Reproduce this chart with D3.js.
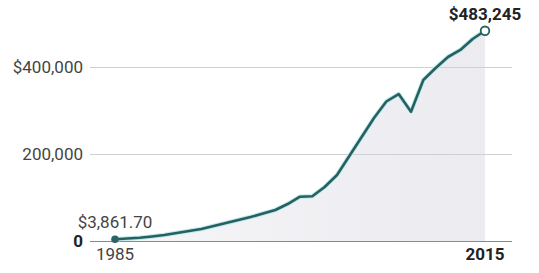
<!DOCTYPE html>
<html>
<head>
<meta charset="utf-8">
<script src="https://cdn.jsdelivr.net/npm/d3@7"></script>
<style>
  body { margin: 0; background: #fff; }
  svg { display: block; font-family: Roboto, "Liberation Sans", sans-serif; }
  .tick-label { font-size: 17px; fill: #444; }
  .bold-label { font-size: 17px; font-weight: bold; fill: #222; }
</style>
</head>
<body>
<svg class="chart" width="539" height="273"></svg>
<script>
// DATA
var years = [1985, 1986, 1987, 1988, 1989, 1990, 1991, 1992, 1993, 1994,
             1995, 1996, 1997, 1998, 1999, 2000, 2001, 2002, 2003, 2004,
             2005, 2006, 2007, 2008, 2009, 2010, 2011, 2012, 2013, 2014, 2015];

var values = [3861.70, 5700, 7400, 10300, 13800, 18400, 23000, 27600, 34500, 41400,
              48300, 55200, 63200, 71300, 85000, 101800, 102800, 124100, 151700, 195400,
              239000, 282800, 320700, 337900, 297200, 370100, 397700, 423000, 439100, 464400, 483245];

var yTicks = [0, 200000, 400000];
var yTickLabels = ["0", "200,000", "$400,000"];

var startLabel = "$3,861.70";
var endLabel = "$483,245";

// SETUP
var svg = d3.select(".chart");

var x = d3.scaleLinear()
    .domain([1985, 2015])
    .range([115, 485]);

var y = d3.scaleLinear()
    .domain([0, 400000])
    .range([241, 67]);

var data = years.map(function(d, i) { return {year: d, value: values[i]}; });

var gridLeft = 90, gridRight = 512;

// gradient for the area
var defs = svg.append("defs");
var grad = defs.append("linearGradient")
    .attr("id", "areaFill")
    .attr("x1", "0%").attr("x2", "100%")
    .attr("y1", "0%").attr("y2", "0%");
grad.append("stop").attr("offset", "0%").attr("stop-color", "#f6f6f8");
grad.append("stop").attr("offset", "100%").attr("stop-color", "#ebebf0");

// area
var area = d3.area()
    .x(function(d) { return x(d.year); })
    .y0(y(0))
    .y1(function(d) { return y(d.value); });

svg.append("path")
    .datum(data)
    .attr("d", area)
    .attr("fill", "url(#areaFill)");

// gridlines
svg.append("g")
  .selectAll("line")
  .data(yTicks)
  .enter().append("line")
    .attr("x1", gridLeft)
    .attr("x2", gridRight)
    .attr("y1", function(d) { return Math.round(y(d)) + 0.5; })
    .attr("y2", function(d) { return Math.round(y(d)) + 0.5; })
    .attr("stroke", function(d) { return d == 0 ? "#8a8a8a" : "#d0d0d0"; })
    .attr("stroke-width", 1);

// y labels
svg.append("g")
  .selectAll("text")
  .data(yTicks)
  .enter().append("text")
    .attr("class", function(d) { return d == 0 ? "bold-label" : "tick-label"; })
    .attr("x", 83)
    .attr("y", function(d) { return y(d); })
    .attr("dy", "0.36em")
    .attr("text-anchor", "end")
    .text(function(d, i) { return yTickLabels[i]; });

// line
var line = d3.line()
    .x(function(d) { return x(d.year); })
    .y(function(d) { return y(d.value); });

svg.append("path")
    .datum(data)
    .attr("d", line)
    .attr("fill", "none")
    .attr("stroke", "#bfe9ee")
    .attr("stroke-width", 4.5)
    .attr("stroke-linejoin", "round");

svg.append("path")
    .datum(data)
    .attr("d", line)
    .attr("fill", "none")
    .attr("stroke", "#27615f")
    .attr("stroke-width", 2.6)
    .attr("stroke-linejoin", "round");

// end points
var first = data[0], last = data[data.length - 1];

svg.append("circle")
    .attr("cx", x(first.year))
    .attr("cy", y(first.value))
    .attr("r", 3.8)
    .attr("fill", "#2f6466");

svg.append("circle")
    .attr("cx", x(last.year))
    .attr("cy", y(last.value))
    .attr("r", 4.3)
    .attr("fill", "#fff")
    .attr("stroke", "#27615f")
    .attr("stroke-width", 1.8);

// value labels
svg.append("text")
    .attr("class", "tick-label")
    .attr("x", x(first.year))
    .attr("y", 228)
    .attr("text-anchor", "middle")
    .text(startLabel);

svg.append("text")
    .attr("class", "bold-label")
    .attr("x", x(last.year))
    .attr("y", 20)
    .attr("text-anchor", "middle")
    .text(endLabel);

// x labels
svg.append("text")
    .attr("class", "tick-label")
    .attr("x", x(first.year))
    .attr("y", 260)
    .attr("text-anchor", "middle")
    .text(first.year);

svg.append("text")
    .attr("class", "bold-label")
    .attr("x", x(last.year))
    .attr("y", 260)
    .attr("text-anchor", "middle")
    .text(last.year);
</script>
</body>
</html>
